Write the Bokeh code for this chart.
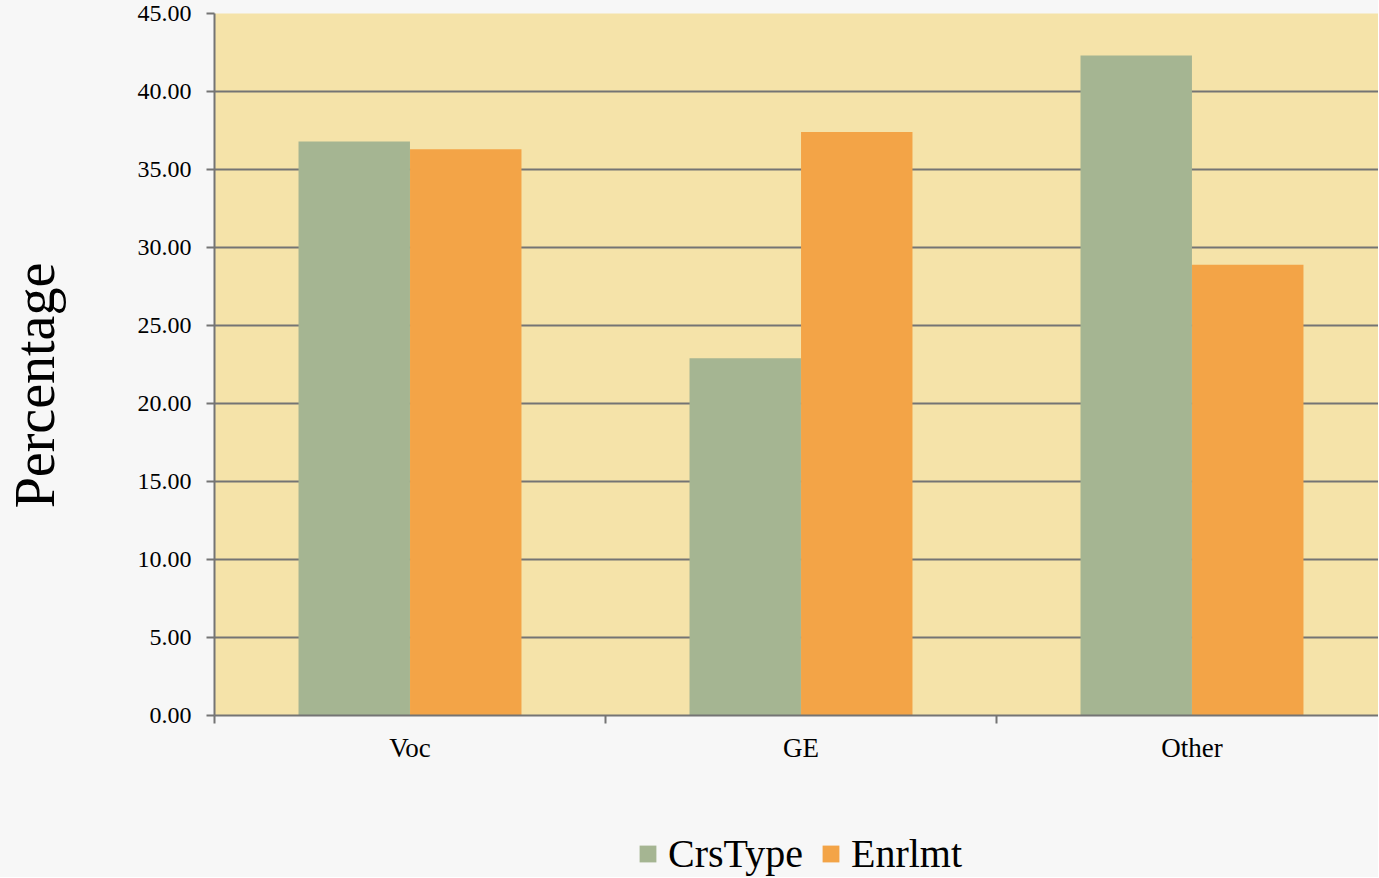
from bokeh.plotting import figure
from bokeh.layouts import column
from bokeh.models import Range1d, FixedTicker, Legend, LegendItem
from bokeh.embed import file_html
from bokeh.resources import INLINE

categories = ["Voc", "GE", "Other"]
crstype = [36.8, 22.9, 42.3]
enrlmt = [36.3, 37.4, 28.9]
y_ticks = [0, 5, 10, 15, 20, 25, 30, 35, 40, 45]
series_names = ["CrsType", "Enrlmt"]
y_title = "Percentage"

FONT = "Liberation Serif"
GREEN = "#A5B592"
ORANGE = "#F3A447"
GRID = "#747474"
BG = "#F7F7F7"

n = len(categories)
centers = [i + 0.5 for i in range(n)]
bar_w = 0.285
off = 0.1426
x_green = [c - off for c in centers]
x_orange = [c + off for c in centers]

p = figure(width=1378, height=770, output_backend="svg", toolbar_location=None,
           x_range=Range1d(0, 2.977), y_range=Range1d(0, 45),
           min_border_left=214, min_border_right=0, min_border_top=13,
           min_border_bottom=55, title_location=None)

p.background_fill_color = "#F5E3A9"
p.border_fill_color = BG
p.outline_line_color = None

p.vbar(x=x_green, top=crstype, width=bar_w, fill_color=GREEN, line_color=None)
p.vbar(x=x_orange, top=enrlmt, width=bar_w, fill_color=ORANGE, line_color=None)

# y axis
p.yaxis.ticker = FixedTicker(ticks=y_ticks)
p.yaxis.major_label_overrides = {t: f"{t:.2f}" for t in y_ticks}
p.yaxis.major_label_text_font = FONT
p.yaxis.major_label_text_font_size = "24px"
p.yaxis.major_label_text_color = "black"
p.yaxis.major_label_standoff = 15
p.yaxis.major_tick_out = 8
p.yaxis.major_tick_in = 0
p.yaxis.major_tick_line_color = GRID
p.yaxis.major_tick_line_width = 2
p.yaxis.minor_tick_line_color = None
p.yaxis.axis_line_color = GRID
p.yaxis.axis_line_width = 2
p.yaxis.axis_label = y_title + "\u00a0\u00a0\u00a0"
p.yaxis.axis_label_text_font = FONT
p.yaxis.axis_label_text_font_size = "56px"
p.yaxis.axis_label_text_font_style = "normal"
p.yaxis.axis_label_text_color = "black"
p.yaxis.axis_label_standoff = 69

# x axis
p.xaxis.ticker = FixedTicker(ticks=centers, minor_ticks=[float(i) for i in range(n)])
p.xaxis.major_label_overrides = {c: lab for c, lab in zip(centers, categories)}
p.xaxis.major_label_text_font = FONT
p.xaxis.major_label_text_font_size = "27px"
p.xaxis.major_label_text_color = "black"
p.xaxis.major_label_standoff = 9
p.xaxis.major_tick_line_color = None
p.xaxis.major_tick_out = 0
p.xaxis.major_tick_in = 0
p.xaxis.minor_tick_out = 8
p.xaxis.minor_tick_in = 0
p.xaxis.minor_tick_line_color = GRID
p.xaxis.minor_tick_line_width = 2
p.xaxis.axis_line_color = GRID
p.xaxis.axis_line_width = 2

p.xgrid.grid_line_color = None
p.ygrid.grid_line_color = GRID
p.ygrid.grid_line_width = 2
p.ygrid.ticker = FixedTicker(ticks=y_ticks)

# legend strip below the chart (hidden copies of the two series feed the legend)
leg = figure(width=1378, height=107, output_backend="svg", toolbar_location=None,
             x_range=Range1d(0, 1), y_range=Range1d(0, 1),
             x_axis_type=None, y_axis_type=None, title_location=None,
             min_border=0)
leg.background_fill_color = BG
leg.border_fill_color = BG
leg.outline_line_color = None
leg.xgrid.grid_line_color = None
leg.ygrid.grid_line_color = None
g1 = leg.vbar(x=x_green, top=crstype, width=bar_w, fill_color=GREEN, line_color=None, visible=False)
g2 = leg.vbar(x=x_orange, top=enrlmt, width=bar_w, fill_color=ORANGE, line_color=None, visible=False)

legend = Legend(items=[LegendItem(label=series_names[0], renderers=[g1]),
                       LegendItem(label=series_names[1], renderers=[g2])],
                orientation="horizontal", location=(423, 0),
                label_text_font=FONT, label_text_font_size="40px",
                label_text_color="black",
                label_standoff=10, spacing=17, glyph_width=21, glyph_height=21,
                inactive_fill_alpha=0,
                padding=0, margin=0, background_fill_alpha=0, border_line_alpha=0)
leg.add_layout(legend, "center")

layout = column(p, leg, spacing=0, styles={"background-color": BG})
open("out.html", "w").write(file_html(layout, INLINE))
